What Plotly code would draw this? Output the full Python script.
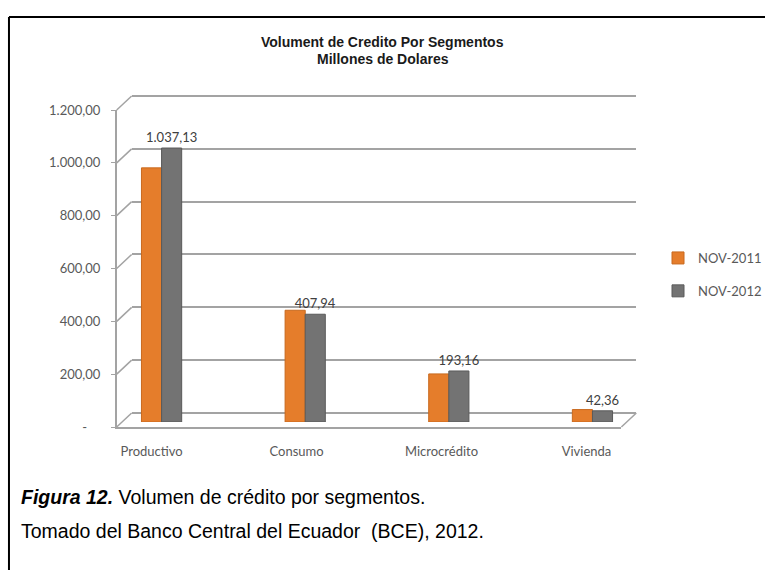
import plotly.graph_objects as go

# ---------------- data ----------------
categories = ["Productivo", "Consumo", "Microcrédito", "Vivienda"]
series_names = ["NOV-2011", "NOV-2012"]
values_2011 = [962.0, 423.0, 182.0, 47.0]
values_2012 = [1037.13, 407.94, 193.16, 42.36]
y_tick_values = [0, 200, 400, 600, 800, 1000, 1200]
y_tick_labels = ["-", "200,00", "400,00", "600,00", "800,00", "1.000,00", "1.200,00"]

title_lines = ["Volument de Credito Por Segmentos", "Millones de Dolares"]
caption_bold = "Figura 12."
caption_rest = " Volumen de crédito por segmentos."
source_text = "Tomado del Banco Central del Ecuador\u00a0\u00a0(BCE), 2012."

# ---------------- layout helpers ----------------
W, H = 767, 570


def px(xp):
    return xp / W


def py(yp):
    return 1 - yp / H


def fmt_es(v):
    s = f"{v:,.2f}"
    return s.replace(",", "X").replace(".", ",").replace("X", ".")


ORANGE = "#E57D2B"
GRAY = "#737373"
LINE = "#A3A3A3"
TXT = "#595959"
FONT = "Lato, Open Sans, sans-serif"

ymax = 1200
PPU = 317.0 / ymax      # pixels per unit on the value axes
PAD = 6                 # small padding so that edge gridlines are drawn

x_back_dom = [px(132), px(638)]
y_bar_dom = [py(422), py(105)]
y_grid_dom = [py(413 + PAD * PPU), py(96 - PAD * PPU)]
y_grid_range = [-PAD, ymax + PAD]
x_front_dom = [px(117), px(623)]
y_front_dom = [py(427), py(110)]

spacing = 144.0
x_range = [-(162 - 132) / spacing, 3 + (638 - 594) / spacing]
xf_spacing = 145.3
xf_range = [-(152 - 117) / xf_spacing, 3 + (623 - 588) / xf_spacing]

idx = list(range(len(categories)))

fig = go.Figure()
# back wall gridlines subplot (drawn first, i.e. behind the bars)
fig.add_trace(go.Scatter(
    x=idx, y=[0] * len(idx), mode="markers",
    marker=dict(opacity=0), hoverinfo="skip", showlegend=False,
    xaxis="x", yaxis="y",
))
# bars
fig.add_trace(go.Bar(
    x=idx, y=values_2011, name=series_names[0],
    marker=dict(color=ORANGE, line=dict(color="#C8691E", width=1)),
    xaxis="x2", yaxis="y2", legendgroup="a",
))
fig.add_trace(go.Bar(
    x=idx, y=values_2012, name=series_names[1],
    marker=dict(color=GRAY, line=dict(color="#5A5A5A", width=1)),
    text=[fmt_es(v) for v in values_2012], textposition="outside",
    constraintext="none",
    textfont=dict(family=FONT, size=13, color="#404040"),
    cliponaxis=False,
    xaxis="x2", yaxis="y2", legendgroup="b",
))
# front axes subplot (value labels and category labels)
fig.add_trace(go.Scatter(
    x=idx, y=[0] * len(idx), mode="markers",
    marker=dict(opacity=0), hoverinfo="skip", showlegend=False,
    xaxis="x3", yaxis="y3",
))


def yval(v, dom, rng):
    return dom[0] + (v - rng[0]) / (rng[1] - rng[0]) * (dom[1] - dom[0])


shapes = []
for v in y_tick_values:
    shapes.append(dict(type="line", xref="paper", yref="paper",
                       x0=x_front_dom[0], y0=yval(v, y_front_dom, [0, ymax]),
                       x1=x_back_dom[0], y1=yval(v, y_grid_dom, y_grid_range),
                       line=dict(color=LINE, width=1.5), layer="below"))
shapes.append(dict(type="line", xref="paper", yref="paper",
                   x0=x_front_dom[1], y0=y_front_dom[0],
                   x1=x_back_dom[1], y1=yval(0, y_grid_dom, y_grid_range),
                   line=dict(color=LINE, width=1.5), layer="below"))
shapes.append(dict(type="line", xref="paper", yref="paper",
                   x0=px(9), y0=py(17), x1=1.0, y1=py(17),
                   line=dict(color="black", width=2)))
shapes.append(dict(type="line", xref="paper", yref="paper",
                   x0=px(9), y0=py(17), x1=px(9), y1=0,
                   line=dict(color="black", width=2)))

TITLE_FONT = dict(family="Liberation Sans, Arial", size=14, color="#1A1A1A")
annotations = [
    dict(text="<b>" + title_lines[0] + "</b>",
         xref="paper", yref="paper", x=px(384), y=py(42),
         xanchor="center", yanchor="middle", showarrow=False, font=TITLE_FONT),
    dict(text="<b>" + title_lines[1] + "</b>",
         xref="paper", yref="paper", x=px(384), y=py(59),
         xanchor="center", yanchor="middle", showarrow=False, font=TITLE_FONT),
    dict(text="<b><i>" + caption_bold + "</i></b>" + caption_rest,
         xref="paper", yref="paper", x=px(19), y=py(497),
         xanchor="left", yanchor="middle", showarrow=False,
         font=dict(family="Liberation Sans, Arial", size=19.5, color="black")),
    dict(text=source_text,
         xref="paper", yref="paper", x=px(19), y=py(531),
         xanchor="left", yanchor="middle", showarrow=False,
         font=dict(family="Liberation Sans, Arial", size=19.5, color="black")),
]

y_tick_display = [t if t != "-" else "-\u00a0\u00a0\u00a0\u00a0" for t in y_tick_labels]

hidden = dict(showticklabels=False, showgrid=False, zeroline=False,
              showline=False, ticks="", automargin=False)

fig.update_layout(
    template="none",
    width=W, height=H, autosize=False,
    margin=dict(l=0, r=0, t=0, b=0, pad=0),
    paper_bgcolor="white", plot_bgcolor="rgba(0,0,0,0)",
    barmode="group", bargap=0.72, bargroupgap=0.0,
    font=dict(family=FONT, size=12, color=TXT),
    showlegend=True,
    legend=dict(x=px(660), y=py(243), xanchor="left", yanchor="top",
                font=dict(family=FONT, size=13, color=TXT),
                tracegroupgap=13, bgcolor="rgba(0,0,0,0)", borderwidth=0),
    # back wall grid
    xaxis=dict(domain=x_back_dom, range=x_range, anchor="y", **hidden),
    yaxis=dict(domain=y_grid_dom, range=y_grid_range, anchor="x",
               tickvals=y_tick_values, showgrid=True, gridcolor=LINE,
               gridwidth=1.5, zeroline=False, showticklabels=False,
               showline=False, ticks="", automargin=False),
    # bars
    xaxis2=dict(domain=x_back_dom, range=x_range, anchor="y2", **hidden),
    yaxis2=dict(domain=y_bar_dom, range=[0, ymax], anchor="x2", **hidden),
    # front axes
    xaxis3=dict(domain=x_front_dom, range=xf_range, anchor="y3",
                tickvals=idx, ticktext=categories,
                showgrid=False, zeroline=False, showline=True,
                linecolor=LINE, linewidth=1.5, ticks="outside",
                tickcolor="rgba(0,0,0,0)", ticklen=12, automargin=False,
                tickfont=dict(family=FONT, size=13, color=TXT)),
    yaxis3=dict(domain=y_front_dom, range=[0, ymax], anchor="x3",
                tickvals=y_tick_values, ticktext=y_tick_display,
                showgrid=False, zeroline=False, showline=True,
                linecolor=LINE, linewidth=1.5, ticks="outside",
                tickcolor=LINE, ticklen=4, ticklabelstandoff=8,
                automargin=False,
                tickfont=dict(family=FONT, size=13, color=TXT)),
    shapes=shapes,
    annotations=annotations,
)

fig.write_html("out.html")
